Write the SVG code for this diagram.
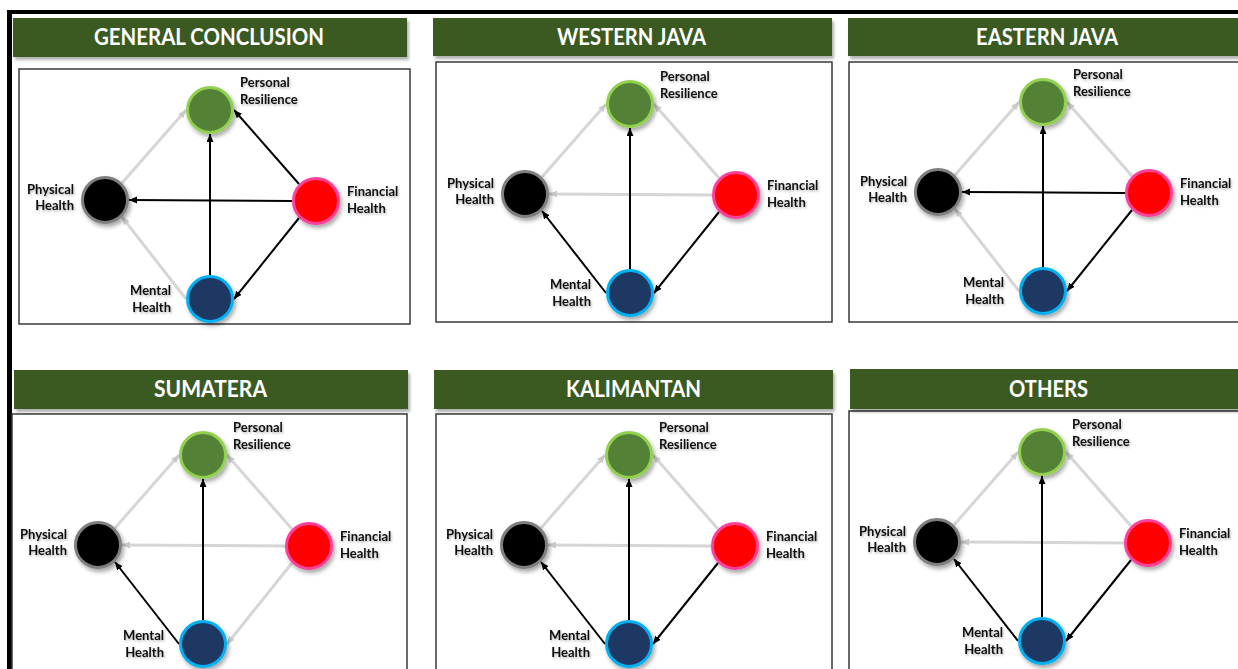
<svg xmlns="http://www.w3.org/2000/svg" width="1238" height="669" viewBox="0 0 1238 669">
<style>
.hdr{fill:#3b5a24;filter:url(#sh)}
.htx{font-family:Lato,"Liberation Sans",sans-serif;font-weight:bold;font-size:23px;fill:#fff;text-anchor:middle}
.box{fill:#fff;stroke:#3a3a3a;stroke-width:1.5}
.lbl{font-family:Lato,"Liberation Sans",sans-serif;font-weight:bold;font-size:13px;fill:#111;filter:url(#tsh)}
.e{text-anchor:end}
.blk{stroke:#000;stroke-width:2;fill:none;marker-end:url(#ab)}
.gry{stroke:#d6d6d6;stroke-width:3;fill:none;marker-end:url(#ag)}
.pr{fill:#538135;stroke:#92d050;stroke-width:3;filter:url(#csh)}
.ph{fill:#000;stroke:#7f7f7f;stroke-width:3;filter:url(#csh)}
.fh{fill:#ff0000;stroke:#ff3f9a;stroke-width:3;filter:url(#csh)}
.mh{fill:#1f3864;stroke:#00b0f0;stroke-width:3;filter:url(#csh)}
</style>
<defs>
<filter id="sh" x="-5%" y="-20%" width="115%" height="150%"><feDropShadow dx="2" dy="3" stdDeviation="1.5" flood-color="#000" flood-opacity="0.3"/></filter>
<filter id="csh" x="-40%" y="-40%" width="190%" height="190%"><feDropShadow dx="2" dy="3" stdDeviation="2" flood-color="#000" flood-opacity="0.35"/></filter>
<filter id="tsh" x="-10%" y="-30%" width="130%" height="170%"><feDropShadow dx="1" dy="1.5" stdDeviation="1" flood-color="#000" flood-opacity="0.3"/></filter>
<marker id="ab" markerUnits="userSpaceOnUse" markerWidth="9" markerHeight="8" refX="8" refY="3.5" orient="auto"><path d="M0,0 L8,3.5 L0,7 z" fill="#000"/></marker>
<marker id="ag" markerUnits="userSpaceOnUse" markerWidth="9" markerHeight="8" refX="8" refY="3.5" orient="auto"><path d="M0,0 L8,3.5 L0,7 z" fill="#cacaca"/></marker>
</defs>
<rect width="1238" height="669" fill="#fff"/>
<rect x="7" y="10" width="1231" height="4" fill="#000"/>
<rect x="7" y="10" width="5" height="659" fill="#000"/>

<!-- Headers and boxes -->
<g id="frames">
<rect class="box" x="19" y="69" width="391" height="255"/>
<rect class="box" x="436" y="62" width="396" height="260"/>
<rect class="box" x="849" y="62" width="400" height="260"/>
<rect class="box" x="12" y="414" width="395" height="270"/>
<rect class="box" x="436" y="414" width="396" height="270"/>
<rect class="box" x="849" y="411" width="400" height="270"/>
<rect class="hdr" x="13" y="18" width="394" height="39"/>
<rect class="hdr" x="433" y="18" width="399" height="38"/>
<rect class="hdr" x="848" y="18" width="400" height="38"/>
<rect class="hdr" x="14" y="370" width="394" height="39"/>
<rect class="hdr" x="434" y="370" width="399" height="39"/>
<rect class="hdr" x="850" y="369" width="400" height="40"/>
<text class="htx" x="209" y="45" textLength="230" lengthAdjust="spacingAndGlyphs">GENERAL CONCLUSION</text>
<text class="htx" x="631.5" y="45" textLength="149" lengthAdjust="spacingAndGlyphs">WESTERN JAVA</text>
<text class="htx" x="1047" y="45" textLength="142" lengthAdjust="spacingAndGlyphs">EASTERN JAVA</text>
<text class="htx" x="210.5" y="397" textLength="113" lengthAdjust="spacingAndGlyphs">SUMATERA</text>
<text class="htx" x="633.5" y="397" textLength="135" lengthAdjust="spacingAndGlyphs">KALIMANTAN</text>
<text class="htx" x="1048.5" y="397" textLength="79" lengthAdjust="spacingAndGlyphs">OTHERS</text>
</g>

<!-- Panel 1: GENERAL CONCLUSION -->
<g id="panel-general" transform="translate(210,110)">
<g id="p1-connectors">
<line class="gry" x1="-88" y1="73" x2="-24" y2="0"/>
<line class="gry" x1="-24" y1="189" x2="-88" y2="107"/>
<line class="blk" x1="89" y1="74" x2="24" y2="0"/>
<line class="blk" x1="0" y1="165" x2="0" y2="24"/>
<line class="blk" x1="82" y1="91" x2="-81" y2="90"/>
<line class="blk" x1="89" y1="108" x2="24" y2="189"/>
</g>
<g id="p1-pr"><circle class="pr" cx="0" cy="0" r="22.5"/><text class="lbl" x="30" y="-23">Personal</text><text class="lbl" x="30" y="-6">Resilience</text></g>
<g id="p1-ph"><circle class="ph" cx="-105" cy="90" r="22.5"/><text class="lbl e" x="-136" y="84">Physical</text><text class="lbl e" x="-136" y="100">Health</text></g>
<g id="p1-fh"><circle class="fh" cx="106" cy="91" r="22.5"/><text class="lbl" x="137" y="86">Financial</text><text class="lbl" x="137" y="103">Health</text></g>
<g id="p1-mh"><circle class="mh" cx="0" cy="189" r="22.5"/><text class="lbl e" x="-39" y="185">Mental</text><text class="lbl e" x="-39" y="202">Health</text></g>
</g>

<!-- Panel 2: WESTERN JAVA -->
<g id="panel-western-java" transform="translate(630,104)">
<g id="p2-connectors">
<line class="gry" x1="-88" y1="73" x2="-24" y2="0"/>
<line class="gry" x1="89" y1="74" x2="24" y2="0"/>
<line class="gry" x1="82" y1="91" x2="-81" y2="90"/>
<line class="blk" x1="0" y1="165" x2="0" y2="24"/>
<line class="blk" x1="-24" y1="189" x2="-88" y2="107"/>
<line class="blk" x1="89" y1="108" x2="24" y2="189"/>
</g>
<g id="p2-pr"><circle class="pr" cx="0" cy="0" r="22.5"/><text class="lbl" x="30" y="-23">Personal</text><text class="lbl" x="30" y="-6">Resilience</text></g>
<g id="p2-ph"><circle class="ph" cx="-105" cy="90" r="22.5"/><text class="lbl e" x="-136" y="84">Physical</text><text class="lbl e" x="-136" y="100">Health</text></g>
<g id="p2-fh"><circle class="fh" cx="106" cy="91" r="22.5"/><text class="lbl" x="137" y="86">Financial</text><text class="lbl" x="137" y="103">Health</text></g>
<g id="p2-mh"><circle class="mh" cx="0" cy="189" r="22.5"/><text class="lbl e" x="-39" y="185">Mental</text><text class="lbl e" x="-39" y="202">Health</text></g>
</g>

<!-- Panel 3: EASTERN JAVA -->
<g id="panel-eastern-java" transform="translate(1043,102)">
<g id="p3-connectors">
<line class="gry" x1="-88" y1="73" x2="-24" y2="0"/>
<line class="gry" x1="89" y1="74" x2="24" y2="0"/>
<line class="gry" x1="-24" y1="189" x2="-88" y2="107"/>
<line class="blk" x1="0" y1="165" x2="0" y2="24"/>
<line class="blk" x1="82" y1="91" x2="-81" y2="90"/>
<line class="blk" x1="89" y1="108" x2="24" y2="189"/>
</g>
<g id="p3-pr"><circle class="pr" cx="0" cy="0" r="22.5"/><text class="lbl" x="30" y="-23">Personal</text><text class="lbl" x="30" y="-6">Resilience</text></g>
<g id="p3-ph"><circle class="ph" cx="-105" cy="90" r="22.5"/><text class="lbl e" x="-136" y="84">Physical</text><text class="lbl e" x="-136" y="100">Health</text></g>
<g id="p3-fh"><circle class="fh" cx="106" cy="91" r="22.5"/><text class="lbl" x="137" y="86">Financial</text><text class="lbl" x="137" y="103">Health</text></g>
<g id="p3-mh"><circle class="mh" cx="0" cy="189" r="22.5"/><text class="lbl e" x="-39" y="185">Mental</text><text class="lbl e" x="-39" y="202">Health</text></g>
</g>

<!-- Panel 4: SUMATERA -->
<g id="panel-sumatera" transform="translate(203,455)">
<g id="p4-connectors">
<line class="gry" x1="-88" y1="73" x2="-24" y2="0"/>
<line class="gry" x1="89" y1="74" x2="24" y2="0"/>
<line class="gry" x1="82" y1="91" x2="-81" y2="90"/>
<line class="gry" x1="89" y1="108" x2="24" y2="189"/>
<line class="blk" x1="0" y1="165" x2="0" y2="24"/>
<line class="blk" x1="-24" y1="189" x2="-88" y2="107"/>
</g>
<g id="p4-pr"><circle class="pr" cx="0" cy="0" r="22.5"/><text class="lbl" x="30" y="-23">Personal</text><text class="lbl" x="30" y="-6">Resilience</text></g>
<g id="p4-ph"><circle class="ph" cx="-105" cy="90" r="22.5"/><text class="lbl e" x="-136" y="84">Physical</text><text class="lbl e" x="-136" y="100">Health</text></g>
<g id="p4-fh"><circle class="fh" cx="106" cy="91" r="22.5"/><text class="lbl" x="137" y="86">Financial</text><text class="lbl" x="137" y="103">Health</text></g>
<g id="p4-mh"><circle class="mh" cx="0" cy="189" r="22.5"/><text class="lbl e" x="-39" y="185">Mental</text><text class="lbl e" x="-39" y="202">Health</text></g>
</g>

<!-- Panel 5: KALIMANTAN -->
<g id="panel-kalimantan" transform="translate(629,455)">
<g id="p5-connectors">
<line class="gry" x1="-88" y1="73" x2="-24" y2="0"/>
<line class="gry" x1="89" y1="74" x2="24" y2="0"/>
<line class="gry" x1="82" y1="91" x2="-81" y2="90"/>
<line class="blk" x1="0" y1="165" x2="0" y2="24"/>
<line class="blk" x1="-24" y1="189" x2="-88" y2="107"/>
<line class="blk" x1="89" y1="108" x2="24" y2="189"/>
</g>
<g id="p5-pr"><circle class="pr" cx="0" cy="0" r="22.5"/><text class="lbl" x="30" y="-23">Personal</text><text class="lbl" x="30" y="-6">Resilience</text></g>
<g id="p5-ph"><circle class="ph" cx="-105" cy="90" r="22.5"/><text class="lbl e" x="-136" y="84">Physical</text><text class="lbl e" x="-136" y="100">Health</text></g>
<g id="p5-fh"><circle class="fh" cx="106" cy="91" r="22.5"/><text class="lbl" x="137" y="86">Financial</text><text class="lbl" x="137" y="103">Health</text></g>
<g id="p5-mh"><circle class="mh" cx="0" cy="189" r="22.5"/><text class="lbl e" x="-39" y="185">Mental</text><text class="lbl e" x="-39" y="202">Health</text></g>
</g>

<!-- Panel 6: OTHERS -->
<g id="panel-others" transform="translate(1042,452)">
<g id="p6-connectors">
<line class="gry" x1="-88" y1="73" x2="-24" y2="0"/>
<line class="gry" x1="89" y1="74" x2="24" y2="0"/>
<line class="gry" x1="82" y1="91" x2="-81" y2="90"/>
<line class="blk" x1="0" y1="165" x2="0" y2="24"/>
<line class="blk" x1="-24" y1="189" x2="-88" y2="107"/>
<line class="blk" x1="89" y1="108" x2="24" y2="189"/>
</g>
<g id="p6-pr"><circle class="pr" cx="0" cy="0" r="22.5"/><text class="lbl" x="30" y="-23">Personal</text><text class="lbl" x="30" y="-6">Resilience</text></g>
<g id="p6-ph"><circle class="ph" cx="-105" cy="90" r="22.5"/><text class="lbl e" x="-136" y="84">Physical</text><text class="lbl e" x="-136" y="100">Health</text></g>
<g id="p6-fh"><circle class="fh" cx="106" cy="91" r="22.5"/><text class="lbl" x="137" y="86">Financial</text><text class="lbl" x="137" y="103">Health</text></g>
<g id="p6-mh"><circle class="mh" cx="0" cy="189" r="22.5"/><text class="lbl e" x="-39" y="185">Mental</text><text class="lbl e" x="-39" y="202">Health</text></g>
</g>
</svg>
